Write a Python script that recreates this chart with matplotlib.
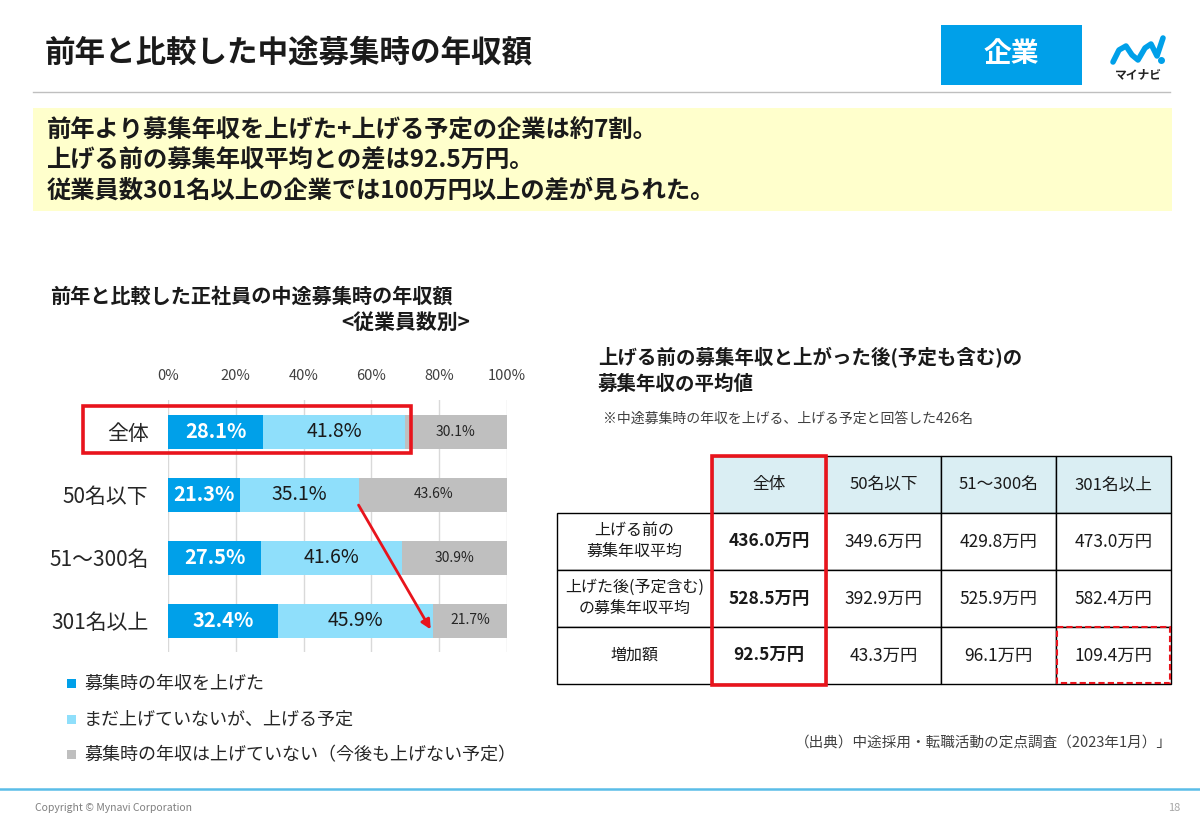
import matplotlib
matplotlib.use("Agg")
import matplotlib.pyplot as plt
from matplotlib.patches import Rectangle, FancyArrowPatch
import numpy as np

plt.rcParams['font.family'] = ['Noto Sans CJK JP', 'DejaVu Sans']

# ---- data ----
categories = ['全体', '50名以下', '51～300名', '301名以上']
raised = [28.1, 21.3, 27.5, 32.4]
planned = [41.8, 35.1, 41.6, 45.9]
not_raised = [30.1, 43.6, 30.9, 21.7]
series_names = ['募集時の年収を上げた', 'まだ上げていないが、上げる予定',
                '募集時の年収は上げていない（今後も上げない予定）']
x_ticks = [0, 20, 40, 60, 80, 100]

table_cols = ['全体', '50名以下', '51～300名', '301名以上']
table_rows = ['上げる前の\n募集年収平均', '上げた後(予定含む)\nの募集年収平均', '増加額']
before_avg = [436.0, 349.6, 429.8, 473.0]
after_avg = [528.5, 392.9, 525.9, 582.4]
increase = [92.5, 43.3, 96.1, 109.4]

c_dark = '#00a0e9'
c_light = '#8fdffb'
c_gray = '#bfbfbf'
c_red = '#e8141c'

W, H = 1200, 831
fig = plt.figure(figsize=(W / 100, H / 100), dpi=100)

# overlay in pixel coords
ov = fig.add_axes([0, 0, 1, 1], zorder=0)
ov.set_xlim(0, W)
ov.set_ylim(H, 0)
ov.axis('off')

# header
ov.text(45, 52, '前年と比較した中途募集時の年収額', fontsize=22, fontweight='bold',
        va='center', ha='left', color='#1a1a1a')
ov.plot([33, 1170], [92, 92], color='#bfbfbf', lw=1)
ov.add_patch(Rectangle((941, 25), 141, 60, color=c_dark, lw=0))
ov.text(1011, 54, '企業', fontsize=20, fontweight='bold', color='white', ha='center', va='center')

# logo approximation
lx = np.array([1113, 1119, 1126, 1132, 1138, 1145, 1151, 1157, 1163])
ly = np.array([62, 50, 46, 55, 60, 48, 44, 56, 38])
ov.plot(lx, ly, color=c_dark, lw=4, solid_capstyle='round')
ov.plot([1161], [60], 'o', color=c_dark, ms=4)
ov.text(1138, 75, 'マイナビ', fontsize=8.5, fontweight='bold', ha='center', va='center', color='#222222')

# summary box
ov.add_patch(Rectangle((33, 108), 1139, 103, color='#ffffcc', lw=0))
summary = ['前年より募集年収を上げた+上げる予定の企業は約7割。',
           '上げる前の募集年収平均との差は92.5万円。',
           '従業員数301名以上の企業では100万円以上の差が見られた。']
for i, s in enumerate(summary):
    ov.text(47, 131 + i * 29.5, s, fontsize=17.5, fontweight='bold', va='center', ha='left', color='#1a1a1a')

# chart titles
ov.text(50, 296, '前年と比較した正社員の中途募集時の年収額', fontsize=14.5, fontweight='bold',
        va='center', ha='left', color='#1a1a1a')
ov.text(470, 322, '<従業員数別>', fontsize=15, fontweight='bold', va='center', ha='right', color='#1a1a1a')
ov.text(598, 358, '上げる前の募集年収と上がった後(予定も含む)の', fontsize=14, fontweight='bold',
        va='center', ha='left', color='#1a1a1a')
ov.text(598, 384, '募集年収の平均値', fontsize=14, fontweight='bold', va='center', ha='left', color='#1a1a1a')
ov.text(603, 419, '※中途募集時の年収を上げる、上げる予定と回答した426名', fontsize=10,
        va='center', ha='left', color='#404040')

# legend
for i, (name, col) in enumerate(zip(series_names, [c_dark, c_light, c_gray])):
    y = 684 + i * 35.5
    ov.add_patch(Rectangle((67, y - 5), 9, 9, color=col, lw=0))
    ov.text(84, y, name, fontsize=13, va='center', ha='left', color='#262626')

# table
col_x = [557, 712, 826, 941, 1056, 1171]
row_y = [456, 513, 570, 627, 684]
for j, name in enumerate(table_cols):
    x0, x1 = col_x[j + 1], col_x[j + 2]
    ov.add_patch(Rectangle((x0, row_y[0]), x1 - x0, row_y[1] - row_y[0],
                           facecolor='#daeef3', edgecolor='black', lw=1))
    ov.text((x0 + x1) / 2, (row_y[0] + row_y[1]) / 2, name, fontsize=12,
            ha='center', va='center', color='#1a1a1a')
table_vals = [before_avg, after_avg, increase]
for i, (rname, vals) in enumerate(zip(table_rows, table_vals)):
    y0, y1 = row_y[i + 1], row_y[i + 2]
    ov.add_patch(Rectangle((col_x[0], y0), col_x[1] - col_x[0], y1 - y0,
                           facecolor='white', edgecolor='black', lw=1))
    ov.text((col_x[0] + col_x[1]) / 2, (y0 + y1) / 2, rname, fontsize=11.5,
            ha='center', va='center', color='#1a1a1a', linespacing=1.35)
    for j, v in enumerate(vals):
        x0, x1 = col_x[j + 1], col_x[j + 2]
        ov.add_patch(Rectangle((x0, y0), x1 - x0, y1 - y0,
                               facecolor='white', edgecolor='black', lw=1))
        ov.text((x0 + x1) / 2, (y0 + y1) / 2, f'{v:.1f}万円', fontsize=12.5,
                fontweight='bold' if j == 0 else 'normal',
                ha='center', va='center', color='#1a1a1a')
ov.add_patch(Rectangle((col_x[1], row_y[0]), col_x[2] - col_x[1], row_y[-1] - row_y[0] + 1,
                       fill=False, edgecolor=c_red, lw=2.6, zorder=5))
ov.add_patch(Rectangle((col_x[4] + 1, row_y[3]), col_x[5] - col_x[4] - 2, row_y[4] - row_y[3] - 1,
                       fill=False, edgecolor=c_red, lw=1.5, ls=(0, (3, 1.5)), zorder=5))

ov.text(1172, 743, '（出典）中途採用・転職活動の定点調査（2023年1月）」', fontsize=10.5,
        ha='right', va='center', color='#404040')

# footer
ov.plot([0, W], [789, 789], color='#5bbde8', lw=1.8)
ov.text(35, 808, 'Copyright © Mynavi Corporation', fontsize=7.5, ha='left', va='center', color='#7f7f7f')
ov.text(1180, 808, '18', fontsize=8, ha='right', va='center', color='#a6a6a6')

# bar chart
ax = fig.add_axes([168 / W, 1 - 652 / H, 339 / W, 252 / H], zorder=2)
ax.patch.set_alpha(0)
y = np.arange(len(categories))
h = 34 / 63
left2 = np.array(raised)
left3 = left2 + np.array(planned)
ax.barh(y, raised, height=h, color=c_dark, zorder=2)
ax.barh(y, planned, left=left2, height=h, color=c_light, zorder=2)
ax.barh(y, not_raised, left=left3, height=h, color=c_gray, zorder=2)
for i in range(len(categories)):
    ax.text(raised[i] / 2, y[i], f'{raised[i]:.1f}%', color='white', fontsize=14.5,
            fontweight='bold', ha='center', va='center', zorder=3)
    ax.text(left2[i] + planned[i] / 2, y[i], f'{planned[i]:.1f}%', color='#1a1a1a',
            fontsize=14, ha='center', va='center', zorder=3)
    ax.text(left3[i] + not_raised[i] / 2, y[i], f'{not_raised[i]:.1f}%', color='#262626',
            fontsize=10, ha='center', va='center', zorder=3)
ax.set_xlim(0, 100)
ax.set_ylim(3.5, -0.5)
ax.set_xticks(x_ticks)
ax.set_xticklabels([f'{t}%' for t in x_ticks], fontsize=10.5, color='#404040')
ax.xaxis.tick_top()
ax.tick_params(axis='x', length=0, pad=12)
ax.set_yticks(y)
ax.set_yticklabels(categories, fontsize=15, color='#262626')
ax.tick_params(axis='y', length=0, pad=14)
ax.grid(axis='x', color='#d9d9d9', lw=1, zorder=0)
for sp in ax.spines.values():
    sp.set_visible(False)

# red frame around 全体 row and arrow
ax.add_patch(Rectangle((-25.1, -0.405), 96.8, 0.745, fill=False, edgecolor=c_red,
                       lw=2.6, clip_on=False, zorder=5))
ax.add_patch(FancyArrowPatch((55.8, 1.13), (77.9, 3.18), arrowstyle='-|>',
                             mutation_scale=14, color=c_red, lw=2, clip_on=False, zorder=5))

fig.savefig('out.png', dpi=100)
